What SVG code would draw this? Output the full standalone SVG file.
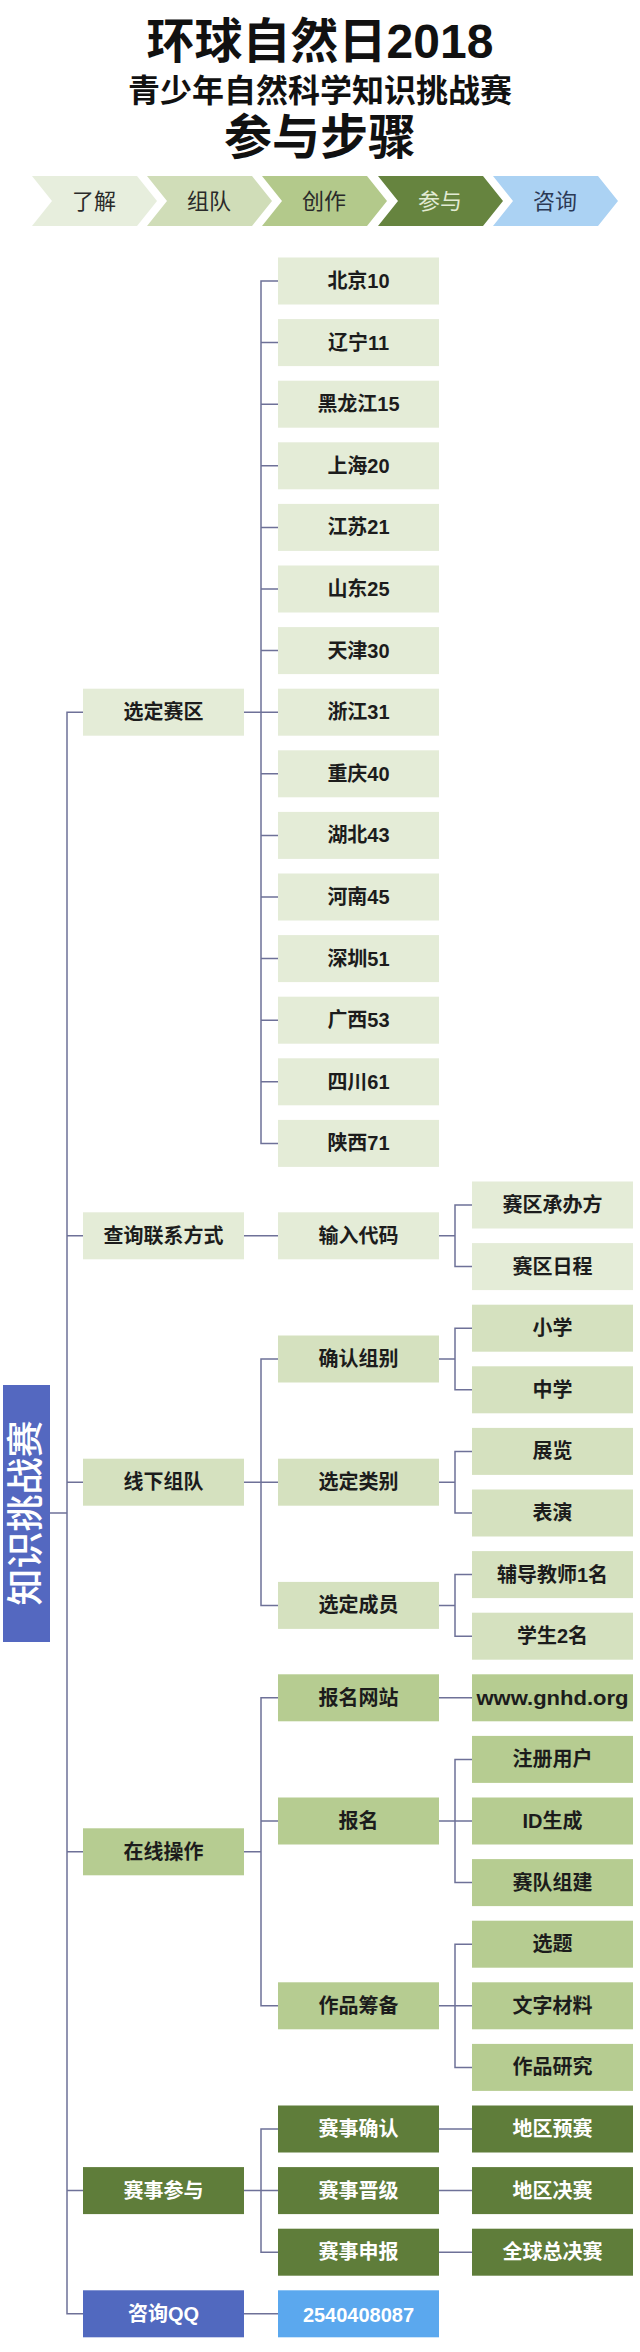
<svg xmlns="http://www.w3.org/2000/svg" width="640" height="2352" viewBox="0 0 640 2352">
<style>
.t{font-family:'Liberation Sans','Noto Sans CJK SC',sans-serif;font-size:20px;font-weight:700;text-anchor:middle;fill:#1c1c1c}
.tw{fill:#ffffff}
.h{font-family:'Liberation Sans','Noto Sans CJK SC',sans-serif;font-weight:700;text-anchor:middle;fill:#111}
.s{font-family:'Liberation Sans','Noto Sans CJK SC',sans-serif;font-size:22px;font-weight:400;text-anchor:middle;fill:#2a2a2a}
.c1{fill:#e4ecd7}.c2{fill:#d5e1bf}.c3{fill:#b6cc91}.c4{fill:#5f7d3a}
.cq{fill:#5169bf}.cn{fill:#5ba8ee}
.ln{fill:none;stroke:#6e7198;stroke-width:1.5}
</style>
<rect width="640" height="2352" fill="#ffffff"/>
<g id="title">
<text class="h" x="320" y="58" font-size="48">环球自然日2018</text>
<text class="h" x="320" y="102" font-size="32">青少年自然科学知识挑战赛</text>
<text class="h" x="320" y="154" font-size="48">参与步骤</text>
</g>
<g id="steps">
<g id="step1"><path d="M32,176H137L157,201L137,226H32L52,201Z" fill="#e7eedd"/><text class="s" x="94" y="209">了解</text></g>
<g id="step2"><path d="M147,176H252L272,201L252,226H147L167,201Z" fill="#d0ddb8"/><text class="s" x="209" y="209">组队</text></g>
<g id="step3"><path d="M262,176H367L387,201L367,226H262L282,201Z" fill="#b3c98b"/><text class="s" x="324" y="209">创作</text></g>
<g id="step4"><path d="M378,176H483L503,201L483,226H378L398,201Z" fill="#66843f"/><text class="s" x="440" y="209" style="fill:#e2ebd3">参与</text></g>
<g id="step5"><path d="M493,176H598L618,201L598,226H493L513,201Z" fill="#abd2f3"/><text class="s" x="555" y="209" style="fill:#2b3a55">咨询</text></g>
</g>
<g id="connectors">
<path class="ln" d="M50,1513H67"/>
<path class="ln" d="M83,712.2H67V2313.8H83M67,1235.8H83M67,1482.2H83M67,1851.8H83M67,2190.6H83"/>
<path class="ln" d="M244,712.2H261M278,281H261V1143.4H278M261,342.6H278M261,404.2H278M261,465.8H278M261,527.4H278M261,589H278M261,650.6H278M261,712.2H278M261,773.8H278M261,835.4H278M261,897H278M261,958.6H278M261,1020.2H278M261,1081.8H278"/>
<path class="ln" d="M244,1235.8H278"/>
<path class="ln" d="M244,1482.2H278M278,1359H261V1605.4H278"/>
<path class="ln" d="M244,1851.8H261M278,1697.8H261V2005.8H278M261,1821H278"/>
<path class="ln" d="M244,2190.6H278M278,2129H261V2252.2H278"/>
<path class="ln" d="M244,2313.8H278"/>
<path class="ln" d="M439,1235.8H455M472,1205H455V1266.6H472"/>
<path class="ln" d="M439,1359H455M472,1328.2H455V1389.8H472"/>
<path class="ln" d="M439,1482.2H455M472,1451.4H455V1513H472"/>
<path class="ln" d="M439,1605.4H455M472,1574.6H455V1636.2H472"/>
<path class="ln" d="M439,1697.8H472"/>
<path class="ln" d="M439,1821H472M472,1759.4H455V1882.6H472"/>
<path class="ln" d="M439,2005.8H472M472,1944.2H455V2067.4H472"/>
<path class="ln" d="M439,2129H472M439,2190.6H472M439,2252.2H472"/>
</g>
<g id="root"><rect x="3" y="1385" width="47" height="257" fill="#5468c0"/><text transform="translate(25,1513) rotate(-90)" x="0" y="14" font-family="'Noto Sans CJK SC',sans-serif" font-size="37" font-weight="500" text-anchor="middle" fill="#ffffff">知识挑战赛</text></g>
<g id="l1-xdsq"><rect class="c1" x="83" y="688.7" width="161" height="47"/><text class="t" x="163.5" y="719.2">选定赛区</text></g>
<g id="l1-cxlx"><rect class="c1" x="83" y="1212.3" width="161" height="47"/><text class="t" x="163.5" y="1242.8">查询联系方式</text></g>
<g id="l1-xxzd"><rect class="c2" x="83" y="1458.7" width="161" height="47"/><text class="t" x="163.5" y="1489.2">线下组队</text></g>
<g id="l1-zxcz"><rect class="c3" x="83" y="1828.3" width="161" height="47"/><text class="t" x="163.5" y="1858.8">在线操作</text></g>
<g id="l1-sscy"><rect class="c4" x="83" y="2167.1" width="161" height="47"/><text class="t tw" x="163.5" y="2197.6">赛事参与</text></g>
<g id="l1-zxqq"><rect class="cq" x="83" y="2290.3" width="161" height="47"/><text class="t tw" x="163.5" y="2320.8" font-weight="400">咨询QQ</text></g>
<g id="p-bj"><rect class="c1" x="278" y="257.5" width="161" height="47"/><text class="t" x="358.5" y="288">北京10</text></g>
<g id="p-ln"><rect class="c1" x="278" y="319.1" width="161" height="47"/><text class="t" x="358.5" y="349.6">辽宁11</text></g>
<g id="p-hlj"><rect class="c1" x="278" y="380.7" width="161" height="47"/><text class="t" x="358.5" y="411.2">黑龙江15</text></g>
<g id="p-sh"><rect class="c1" x="278" y="442.3" width="161" height="47"/><text class="t" x="358.5" y="472.8">上海20</text></g>
<g id="p-js"><rect class="c1" x="278" y="503.9" width="161" height="47"/><text class="t" x="358.5" y="534.4">江苏21</text></g>
<g id="p-sd"><rect class="c1" x="278" y="565.5" width="161" height="47"/><text class="t" x="358.5" y="596">山东25</text></g>
<g id="p-tj"><rect class="c1" x="278" y="627.1" width="161" height="47"/><text class="t" x="358.5" y="657.6">天津30</text></g>
<g id="p-zj"><rect class="c1" x="278" y="688.7" width="161" height="47"/><text class="t" x="358.5" y="719.2">浙江31</text></g>
<g id="p-cq"><rect class="c1" x="278" y="750.3" width="161" height="47"/><text class="t" x="358.5" y="780.8">重庆40</text></g>
<g id="p-hb"><rect class="c1" x="278" y="811.9" width="161" height="47"/><text class="t" x="358.5" y="842.4">湖北43</text></g>
<g id="p-hn"><rect class="c1" x="278" y="873.5" width="161" height="47"/><text class="t" x="358.5" y="904">河南45</text></g>
<g id="p-sz"><rect class="c1" x="278" y="935.1" width="161" height="47"/><text class="t" x="358.5" y="965.6">深圳51</text></g>
<g id="p-gx"><rect class="c1" x="278" y="996.7" width="161" height="47"/><text class="t" x="358.5" y="1027.2">广西53</text></g>
<g id="p-sc"><rect class="c1" x="278" y="1058.3" width="161" height="47"/><text class="t" x="358.5" y="1088.8">四川61</text></g>
<g id="p-sx"><rect class="c1" x="278" y="1119.9" width="161" height="47"/><text class="t" x="358.5" y="1150.4">陕西71</text></g>
<g id="l2-srdm"><rect class="c1" x="278" y="1212.3" width="161" height="47"/><text class="t" x="358.5" y="1242.8">输入代码</text></g>
<g id="l2-qrzb"><rect class="c2" x="278" y="1335.5" width="161" height="47"/><text class="t" x="358.5" y="1366">确认组别</text></g>
<g id="l2-xdlb"><rect class="c2" x="278" y="1458.7" width="161" height="47"/><text class="t" x="358.5" y="1489.2">选定类别</text></g>
<g id="l2-xdcy"><rect class="c2" x="278" y="1581.9" width="161" height="47"/><text class="t" x="358.5" y="1612.4">选定成员</text></g>
<g id="l2-bmwz"><rect class="c3" x="278" y="1674.3" width="161" height="47"/><text class="t" x="358.5" y="1704.8">报名网站</text></g>
<g id="l2-bm"><rect class="c3" x="278" y="1797.5" width="161" height="47"/><text class="t" x="358.5" y="1828">报名</text></g>
<g id="l2-zpcb"><rect class="c3" x="278" y="1982.3" width="161" height="47"/><text class="t" x="358.5" y="2012.8">作品筹备</text></g>
<g id="l2-ssqr"><rect class="c4" x="278" y="2105.5" width="161" height="47"/><text class="t tw" x="358.5" y="2136">赛事确认</text></g>
<g id="l2-ssjj"><rect class="c4" x="278" y="2167.1" width="161" height="47"/><text class="t tw" x="358.5" y="2197.6">赛事晋级</text></g>
<g id="l2-sssb"><rect class="c4" x="278" y="2228.7" width="161" height="47"/><text class="t tw" x="358.5" y="2259.2">赛事申报</text></g>
<g id="l2-qq"><rect class="cn" x="278" y="2290.3" width="161" height="47"/><text class="t tw" x="358.5" y="2322.3" font-size="25" font-weight="400">2540408087</text></g>
<g id="l3-cbf"><rect class="c1" x="472" y="1181.5" width="161" height="47"/><text class="t" x="552.5" y="1212">赛区承办方</text></g>
<g id="l3-rc"><rect class="c1" x="472" y="1243.1" width="161" height="47"/><text class="t" x="552.5" y="1273.6">赛区日程</text></g>
<g id="l3-xx"><rect class="c2" x="472" y="1304.7" width="161" height="47"/><text class="t" x="552.5" y="1335.2">小学</text></g>
<g id="l3-zx"><rect class="c2" x="472" y="1366.3" width="161" height="47"/><text class="t" x="552.5" y="1396.8">中学</text></g>
<g id="l3-zl"><rect class="c2" x="472" y="1427.9" width="161" height="47"/><text class="t" x="552.5" y="1458.4">展览</text></g>
<g id="l3-by"><rect class="c2" x="472" y="1489.5" width="161" height="47"/><text class="t" x="552.5" y="1520">表演</text></g>
<g id="l3-fdjs"><rect class="c2" x="472" y="1551.1" width="161" height="47"/><text class="t" x="552.5" y="1581.6">辅导教师1名</text></g>
<g id="l3-xs"><rect class="c2" x="472" y="1612.7" width="161" height="47"/><text class="t" x="552.5" y="1643.2">学生2名</text></g>
<g id="l3-www"><rect class="c3" x="472" y="1674.3" width="161" height="47"/><text class="t" x="552.5" y="1705.3" font-size="21" textLength="152" lengthAdjust="spacingAndGlyphs">www.gnhd.org</text></g>
<g id="l3-zcyh"><rect class="c3" x="472" y="1735.9" width="161" height="47"/><text class="t" x="552.5" y="1766.4">注册用户</text></g>
<g id="l3-id"><rect class="c3" x="472" y="1797.5" width="161" height="47"/><text class="t" x="552.5" y="1828">ID生成</text></g>
<g id="l3-sdzj"><rect class="c3" x="472" y="1859.1" width="161" height="47"/><text class="t" x="552.5" y="1889.6">赛队组建</text></g>
<g id="l3-xt"><rect class="c3" x="472" y="1920.7" width="161" height="47"/><text class="t" x="552.5" y="1951.2">选题</text></g>
<g id="l3-wzcl"><rect class="c3" x="472" y="1982.3" width="161" height="47"/><text class="t" x="552.5" y="2012.8">文字材料</text></g>
<g id="l3-zpyj"><rect class="c3" x="472" y="2043.9" width="161" height="47"/><text class="t" x="552.5" y="2074.4">作品研究</text></g>
<g id="l3-dqys"><rect class="c4" x="472" y="2105.5" width="161" height="47"/><text class="t tw" x="552.5" y="2136">地区预赛</text></g>
<g id="l3-dqjs"><rect class="c4" x="472" y="2167.1" width="161" height="47"/><text class="t tw" x="552.5" y="2197.6">地区决赛</text></g>
<g id="l3-qqzj"><rect class="c4" x="472" y="2228.7" width="161" height="47"/><text class="t tw" x="552.5" y="2259.2">全球总决赛</text></g>
</svg>
